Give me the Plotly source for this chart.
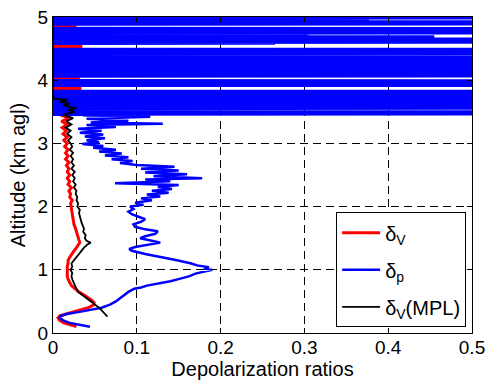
import plotly.graph_objects as go

# ---------------- data ----------------
# delta_V (red)
red_alt = [0.10, 0.13, 0.16, 0.20, 0.24, 0.27, 0.30, 0.33, 0.36, 0.40, 0.44, 0.48, 0.52, 0.56,
           0.60, 0.65, 0.70, 0.75, 0.80, 0.85, 0.90, 0.95, 1.00, 1.05, 1.10, 1.15, 1.20, 1.25,
           1.30, 1.35, 1.40, 1.43, 1.47, 1.52, 1.58, 1.65, 1.72, 1.80, 1.88, 1.95, 2.00, 2.05,
           2.10, 2.15, 2.20, 2.25, 2.30, 2.35, 2.40, 2.45, 2.50, 2.55, 2.60, 2.65, 2.70, 2.75,
           2.80, 2.85, 2.90, 2.95, 3.00, 3.05, 3.10, 3.15, 3.20, 3.25, 3.30, 3.35, 3.40, 3.45,
           3.50, 3.55, 3.60, 3.65, 3.70, 3.75, 3.80, 3.86, 3.87, 3.88, 3.95, 4.02, 4.03, 4.04,
           4.20, 4.40, 4.525, 4.535, 4.545, 4.70, 4.84, 4.85, 4.86, 5.00]
red_val = [0.028, 0.020, 0.013, 0.008, 0.006, 0.008, 0.016, 0.026, 0.034, 0.042, 0.048, 0.049, 0.046, 0.042,
           0.037, 0.031, 0.026, 0.022, 0.020, 0.018, 0.017, 0.017, 0.017, 0.017, 0.018, 0.018, 0.020, 0.022,
           0.025, 0.028, 0.031, 0.032, 0.031, 0.030, 0.028, 0.027, 0.025, 0.024, 0.023, 0.023, 0.022, 0.021,
           0.023, 0.020, 0.021, 0.019, 0.022, 0.018, 0.020, 0.017, 0.020, 0.017, 0.019, 0.016, 0.019, 0.015,
           0.018, 0.015, 0.018, 0.014, 0.017, 0.013, 0.017, 0.012, 0.016, 0.011, 0.017, 0.010, 0.020, 0.009,
           0.022, 0.012, 0.024, 0.015, 0.020, 0.012, 0.018, -0.05, 0.034, -0.05, 0.015, -0.05, 0.032, -0.05,
           0.020, 0.015, -0.05, 0.035, -0.05, 0.020, -0.05, 0.028, -0.05, 0.020]

# delta_p (blue)
blue_alt = [0.10, 0.13, 0.16, 0.20, 0.24, 0.27, 0.30, 0.33, 0.36, 0.40, 0.45, 0.50, 0.55, 0.60,
            0.65, 0.70, 0.72, 0.75, 0.78, 0.82, 0.86, 0.90, 0.94, 0.97, 1.00, 1.02, 1.04, 1.07,
            1.10, 1.15, 1.20, 1.25, 1.30, 1.33, 1.36, 1.40, 1.43, 1.46, 1.50, 1.53, 1.57, 1.61,
            1.64, 1.68, 1.72, 1.76, 1.80, 1.84, 1.88, 1.92, 1.96, 2.00, 2.03, 2.06, 2.10, 2.13,
            2.16, 2.19, 2.22, 2.25, 2.28, 2.31, 2.34, 2.37, 2.40, 2.43, 2.45, 2.48, 2.51, 2.54,
            2.57, 2.60, 2.63, 2.66, 2.69, 2.72, 2.75, 2.78, 2.81, 2.84, 2.87, 2.90, 2.93, 2.96,
            2.99, 3.02, 3.05, 3.08, 3.11, 3.14, 3.17, 3.20, 3.23, 3.26, 3.29, 3.31, 3.33, 3.36,
            3.39, 3.42, 3.44, 3.45,
            3.455, 3.47, 3.48, 3.50, 3.51, 3.525, 3.54, 3.56, 3.58, 3.60, 3.62, 3.64, 3.66, 3.68,
            3.70, 3.72, 3.74, 3.76, 3.78, 3.80, 3.82, 3.825, 3.83, 3.91, 3.915, 3.93, 3.95, 3.97,
            3.99, 4.00, 4.055, 4.07, 4.09, 4.11, 4.13, 4.15, 4.17, 4.19, 4.21, 4.23, 4.25, 4.27,
            4.29, 4.31, 4.33, 4.35, 4.365, 4.37, 4.375, 4.40, 4.405, 4.425, 4.43, 4.445, 4.45, 4.47,
            4.48, 4.49, 4.495, 4.575, 4.58, 4.59, 4.60, 4.61, 4.63, 4.64, 4.65, 4.66, 4.68, 4.685,
            4.69, 4.70, 4.73, 4.735, 4.75, 4.76, 4.78, 4.80, 4.82, 4.825, 4.88, 4.89, 4.91, 4.925,
            4.93, 4.94, 4.95, 4.96, 4.97, 4.99, 5.00, 5.01]
blue_val = [0.044, 0.030, 0.020, 0.012, 0.008, 0.009, 0.016, 0.030, 0.044, 0.058, 0.068, 0.075, 0.080, 0.085,
            0.090, 0.097, 0.105, 0.112, 0.125, 0.140, 0.152, 0.163, 0.170, 0.180, 0.190, 0.180, 0.186, 0.172,
            0.165, 0.148, 0.128, 0.110, 0.094, 0.091, 0.098, 0.115, 0.128, 0.118, 0.104, 0.110, 0.122, 0.125,
            0.110, 0.098, 0.096, 0.105, 0.110, 0.102, 0.094, 0.090, 0.096, 0.092, 0.108, 0.098, 0.118, 0.105,
            0.128, 0.112, 0.138, 0.118, 0.142, 0.125, 0.150, 0.074, 0.140, 0.110, 0.178, 0.120, 0.160, 0.110,
            0.150, 0.105, 0.145, 0.100, 0.080, 0.095, 0.070, 0.090, 0.062, 0.082, 0.055, 0.075, 0.048, 0.060,
            0.035, 0.055, 0.040, 0.062, 0.038, 0.060, 0.032, 0.058, 0.030, 0.075, 0.040, 0.131, 0.045, 0.090,
            0.040, 0.116, 0.036, 0.110,
            -0.3, 1.2, -0.3, 1.2, -0.3, 0.161, -0.3, 1.2, -0.3, 1.2, -0.3, 1.2, -0.3, 1.2,
            -0.3, 1.2, -0.3, 1.2, -0.3, 1.2, -0.3, 1.2, -0.3, -0.3, 1.2, -0.3, 1.2, -0.3,
            1.2, -0.3, -0.3, 1.2, -0.3, 1.2, -0.3, 1.2, -0.3, 1.2, -0.3, 1.2, -0.3, 1.2,
            -0.3, 1.2, -0.3, 1.2, -0.3, 1.2, -0.3, 0.195, -0.3, 1.2, -0.3, 0.064, -0.3, 1.2,
            -0.3, 1.2, -0.3, -0.3, 0.265, -0.3, 1.2, -0.3, 0.484, -0.3, 1.2, -0.3, 0.355, -0.3,
            0.455, -0.3, 0.305, -0.3, 1.2, -0.3, 1.2, -0.3, 1.2, -0.3, -0.3, 1.2, -0.3, 1.2,
            -0.3, 0.377, -0.3, 0.267, -0.3, 1.2, -0.3, 1.2]

# delta_V (MPL) (black)
mpl_alt = [0.26, 0.30, 0.35, 0.40, 0.45, 0.50, 0.55, 0.60, 0.65, 0.70, 0.75, 0.80, 0.85, 0.90,
           0.95, 1.00, 1.05, 1.10, 1.15, 1.20, 1.25, 1.30, 1.35, 1.40, 1.43, 1.46, 1.50, 1.55,
           1.60, 1.65, 1.70, 1.75, 1.80, 1.85, 1.90, 1.95, 2.00, 2.05, 2.10, 2.15, 2.20, 2.25,
           2.30, 2.35, 2.40, 2.45, 2.50, 2.55, 2.60, 2.65, 2.70, 2.75, 2.80, 2.85, 2.90, 2.95,
           3.00, 3.05, 3.10, 3.15, 3.20, 3.25, 3.30, 3.35, 3.40, 3.45, 3.50, 3.53, 3.56, 3.60,
           3.63, 3.66, 3.69, 3.71, 3.74, 5.00]
mpl_val = [0.065, 0.062, 0.059, 0.055, 0.050, 0.045, 0.040, 0.034, 0.030, 0.028, 0.026, 0.024, 0.023, 0.022,
           0.023, 0.021, 0.023, 0.022, 0.025, 0.027, 0.030, 0.034, 0.037, 0.041, 0.045, 0.040, 0.038, 0.039,
           0.036, 0.037, 0.035, 0.034, 0.033, 0.032, 0.031, 0.032, 0.029, 0.030, 0.028, 0.029, 0.027, 0.028,
           0.025, 0.027, 0.024, 0.026, 0.023, 0.026, 0.022, 0.025, 0.022, 0.024, 0.021, 0.024, 0.020, 0.023,
           0.021, 0.018, 0.022, 0.017, 0.021, 0.015, 0.022, 0.016, 0.024, 0.012, 0.026, 0.018, 0.028, 0.012,
           0.020, 0.008, 0.018, 0.002, 0.000, 0.000]

x_ticks = [0, 0.1, 0.2, 0.3, 0.4, 0.5]
x_ticktext = ["0", "0.1", "0.2", "0.3", "0.4", "0.5"]
y_ticks = [0, 1, 2, 3, 4, 5]
y_ticktext = ["0", "1", "2", "3", "4", "5"]

FONT = "Liberation Sans, Arial, sans-serif"

fig = go.Figure()
fig.add_trace(go.Scatter(x=red_val, y=red_alt, mode="lines", name="δ<sub>V</sub>",
                         line=dict(color="#ff0000", width=3), legendgroup="a"))
fig.add_trace(go.Scatter(x=blue_val, y=blue_alt, mode="lines", name="δ<sub>p</sub>",
                         line=dict(color="#0000ff", width=2.5), legendgroup="b"))
fig.add_trace(go.Scatter(x=mpl_val, y=mpl_alt, mode="lines", name="δ<sub>V</sub>(MPL)",
                         line=dict(color="#000000", width=1.8), legendgroup="c"))

axis_common = dict(
    showline=True, linecolor="black", linewidth=1, mirror="ticks",
    ticks="inside", ticklen=5, tickcolor="black", tickwidth=1,
    showgrid=True, gridcolor="black", gridwidth=1, griddash="8px,5px",
    zeroline=False, automargin=False,
    tickfont=dict(family=FONT, size=19, color="black"),
)

fig.update_xaxes(range=[0, 0.5], tickvals=x_ticks, ticktext=x_ticktext, ticklabelstandoff=-3,
                 title=dict(text="Depolarization ratios", font=dict(family=FONT, size=20, color="black"), standoff=10),
                 **axis_common)
fig.update_yaxes(range=[0, 5], tickvals=y_ticks, ticktext=y_ticktext,
                 title=dict(text="Altitude (km agl)", font=dict(family=FONT, size=20, color="black"), standoff=6),
                 **axis_common)

fig.update_layout(
    width=488, height=380,
    margin=dict(l=53, r=16, t=17, b=47, autoexpand=False),
    paper_bgcolor="white", plot_bgcolor="white",
    font=dict(family=FONT, color="black"),
    legend=dict(x=0.986, y=0.018, xanchor="right", yanchor="bottom",
                bgcolor="white", bordercolor="black", borderwidth=1,
                font=dict(family=FONT, size=20, color="black"),
                tracegroupgap=8, itemwidth=38),
    showlegend=True,
)

fig.write_html("out.html", config={"displayModeBar": False},
               post_script="document.body.style.margin='0px';document.body.style.overflow='hidden';")
